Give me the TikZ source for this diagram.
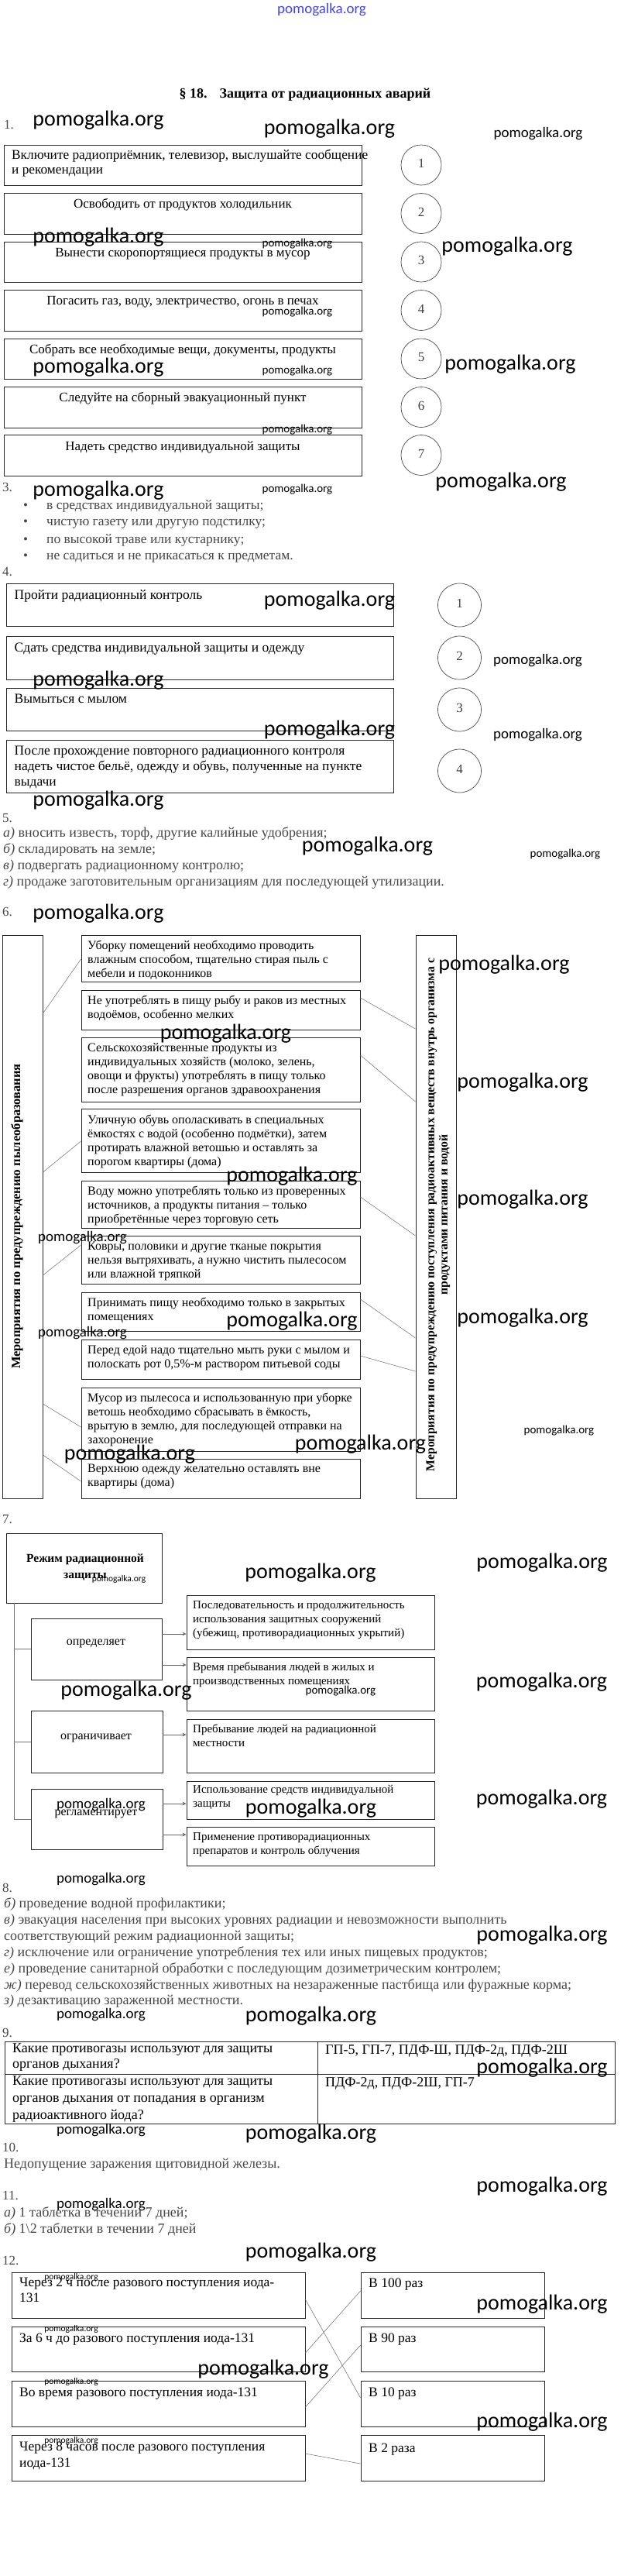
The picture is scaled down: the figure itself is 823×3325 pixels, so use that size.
\documentclass[tikz,border=0pt]{standalone}
\usepackage{fontspec}
\setmainfont{Liberation Serif}
\newfontfamily\wmfont{Carlito}
\usetikzlibrary{fit,arrows.meta}
\definecolor{wmblue}{RGB}{70,70,225}
\newcommand\fsz[2]{\fontsize{#1}{#2}\selectfont}
\newcommand\fst{\rule{0pt}{.75em}}
\tikzset{
  bx/.style={draw=black!85, line width=0.9pt, inner sep=0pt},
  cn/.style={draw=black!55, line width=0.55pt},
  ar/.style={draw=black!60, line width=0.7pt, -{Stealth[length=5pt,width=4.5pt]}},
  circ/.style={circle, draw=black!70, line width=0.7pt, minimum size=#1, inner sep=0pt, font=\fsz{17}{19}, text=black!75},
  wb/.style={font=\wmfont\fsz{28}{30}, inner sep=0pt},
  wm/.style={font=\wmfont\fsz{19}{20}, inner sep=0pt},
  ws/.style={font=\wmfont\fsz{15}{16}, inner sep=0pt},
  wt/.style={font=\wmfont\fsz{11.5}{12}, inner sep=0pt},
  ml/.style 2 args={inner sep=0pt, align=left, anchor=north west, font=\fsz{#1}{#2}, yshift={0.51*#1pt}, execute at begin node=\fst},
  sl/.style={inner sep=0pt, anchor=base west, font=\fsz{#1}{#1}, yshift={-0.24*#1pt}},
  sc/.style={inner sep=0pt, anchor=base, font=\fsz{#1}{#1}, yshift={-0.24*#1pt}},
  gr/.style={text=black!72},
}
\begin{document}
\begin{tikzpicture}[x=1pt,y=-1pt]
\fill[white] (0,0) rectangle (823,3325);
\useasboundingbox (0,0) rectangle (823,3325);

% header and title
\node[font=\wmfont\fsz{19}{20}, text=wmblue, inner sep=0pt] (hdr) at (415.5,12.5) {pomogalka.org};
\node[inner sep=0pt, anchor=base, font=\bfseries\fsz{18}{20}, yshift=-4.3pt] (ttl) at (394,122) {§ 18.\hspace{16pt}Защита от радиационных аварий};

% ---------- 1 ----------
\node[sl=17, gr] (n1) at (5,162) {1.};
\node[bx, fit={(5,187)(467,239)}] (b1) {};
\node[bx, fit={(5,249)(467,302)}] (b2) {};
\node[bx, fit={(5,312)(467,364)}] (b3) {};
\node[bx, fit={(5,374)(467,427)}] (b4) {};
\node[bx, fit={(5,437)(467,489)}] (b5) {};
\node[bx, fit={(5,499)(467,552)}] (b6) {};
\node[bx, fit={(5,561)(467,614)}] (b7) {};
\node[ml={17.3}{18.5}] (b1t) at (15,202) {Включите радиоприёмник, телевизор, выслушайте сообщение\\и рекомендации};
\node[sc=17] (b2t) at (236,264) {Освободить от продуктов холодильник};
\node[sc=17] (b3t) at (236,327) {Вынести скоропортящиеся продукты в мусор};
\node[sc=17] (b4t) at (236,389) {Погасить газ, воду, электричество, огонь в печах};
\node[sc=17] (b5t) at (236,452) {Собрать все необходимые вещи, документы, продукты};
\node[sc=17] (b6t) at (236,514) {Следуйте на сборный эвакуационный пункт};
\node[sc=17] (b7t) at (236,577) {Надеть средство индивидуальной защиты};
\foreach \i/\y in {1/213,2/275.5,3/338,4/400.5,5/463,6/525.5,7/587.5}
  \node[circ=52] (c\i) at (544,\y) {\raisebox{4pt}{\i}};
\node[wb] (w1) at (127,155) {pomogalka.org};
\node[wb] (w2) at (425.5,166.5) {pomogalka.org};
\node[wm] (w3) at (695,173) {pomogalka.org};
\node[wb] (w4) at (127,306) {pomogalka.org};
\node[ws] (w5) at (384,315) {pomogalka.org};
\node[wb] (w6) at (655,318) {pomogalka.org};
\node[ws] (w7) at (384,402.5) {pomogalka.org};
\node[wb] (w8) at (127,474) {pomogalka.org};
\node[ws] (w9) at (384,478.5) {pomogalka.org};
\node[wb] (w10) at (659,470) {pomogalka.org};
\node[ws] (w11) at (384,555) {pomogalka.org};
\node[wb] (w12) at (647,622) {pomogalka.org};
\node[wb] (w13) at (127,633) {pomogalka.org};
\node[ws] (w14) at (384,631.5) {pomogalka.org};

% ---------- 3 ----------
\node[sl=17, gr] (n3) at (3,630) {3.};
\node[sl=17, gr] (k1) at (30,653) {•};
\node[sl=17, gr] (k2) at (30,674) {•};
\node[sl=17, gr] (k3) at (30,697) {•};
\node[sl=17, gr] (k4) at (30,718) {•};
\node[sl=17.5, gr] (k1t) at (60,653) {в средствах индивидуальной защиты;};
\node[sl=17.5, gr] (k2t) at (60,674) {чистую газету или другую подстилку;};
\node[sl=17.5, gr] (k3t) at (60,697) {по высокой траве или кустарнику;};
\node[sl=17.5, gr] (k4t) at (60,718) {не садиться и не прикасаться к предметам.};

% ---------- 4 ----------
\node[sl=17, gr] (n4) at (3,739) {4.};
\node[bx, fit={(8,753)(508,808)}] (d1) {};
\node[bx, fit={(8,821)(508,877)}] (d2) {};
\node[bx, fit={(8,888)(508,943)}] (d3) {};
\node[bx, fit={(8,955)(508,1023)}] (d4) {};
\node[ml={17.5}{20}] (d1t) at (18.5,769) {Пройти радиационный контроль};
\node[ml={17.5}{20}] (d2t) at (18.5,837) {Сдать средства индивидуальной защиты и одежду};
\node[ml={17.5}{20}] (d3t) at (18.5,903) {Вымыться с мылом};
\node[ml={17.5}{20}] (d4t) at (18.5,972) {После прохождение повторного радиационного контроля\\надеть чистое бельё, одежду и обувь, полученные на пункте\\выдачи};
\foreach \i/\y in {1/781,2/849,3/916,4/995}
  \node[circ=56] (e\i) at (593.5,\y) {\raisebox{5pt}{\i}};
\node[wb] (w15) at (425.5,775) {pomogalka.org};
\node[wm] (w16) at (694.5,853) {pomogalka.org};
\node[wb] (w17) at (127,878) {pomogalka.org};
\node[wb] (w18) at (425.5,942) {pomogalka.org};
\node[wm] (w19) at (694.5,949) {pomogalka.org};
\node[wb] (w20) at (127,1033) {pomogalka.org};

% ---------- 5 ----------
\node[sl=17, gr] (n5) at (3,1057) {5.};
\node[sl=18, gr] (f1) at (4,1076) {\textit{а)} вносить известь, торф, другие калийные удобрения;};
\node[sl=18, gr] (f2) at (4,1097) {\textit{б)} складировать на земле;};
\node[sl=18, gr] (f3) at (4,1118) {\textit{в)} подвергать радиационному контролю;};
\node[sl=18, gr] (f4) at (4,1139) {\textit{г)} продаже заготовительным организациям для последующей утилизации.};
\node[wb] (w21) at (474.5,1092) {pomogalka.org};
\node[ws] (w22) at (730,1103) {pomogalka.org};
\node[sl=17, gr] (n6) at (3,1178) {6.};
\node[wb] (w23) at (127,1179) {pomogalka.org};

% ---------- 6 ----------
\node[bx, fit={(3,1207)(55,1934)}] (lb) {};
\node[bx, fit={(537,1207)(589,1934)}] (rb) {};
\node[rotate=90, inner sep=0pt, font=\bfseries\fsz{16.5}{19}] (lbt) at (22,1570) {Мероприятия по предупреждению пылеобразования};
\node[rotate=90, inner sep=0pt, align=center, font=\bfseries\fsz{15.7}{17}] (rbt) at (566,1568) {Мероприятия по предупреждению поступления радиоактивных веществ внутрь организма с\\продуктами питания и водой};
\node[bx, fit={(105,1207)(465,1267)}] (mA) {};
\node[bx, fit={(105,1278)(465,1329)}] (mB) {};
\node[bx, fit={(105,1339)(465,1422)}] (mC) {};
\node[bx, fit={(105,1431)(465,1513)}] (mD) {};
\node[bx, fit={(105,1524)(465,1585)}] (mE) {};
\node[bx, fit={(105,1595)(465,1657)}] (mF) {};
\node[bx, fit={(105,1668)(465,1718)}] (mG) {};
\node[bx, fit={(105,1729)(465,1780)}] (mH) {};
\node[bx, fit={(105,1791)(465,1873)}] (mI) {};
\node[bx, fit={(105,1883)(465,1934)}] (mJ) {};
\node[ml={16}{18}] (mAt) at (113,1222) {Уборку помещений необходимо проводить\\влажным способом, тщательно стирая пыль с\\мебели и подоконников};
\node[ml={16}{18}] (mBt) at (113,1293) {Не употреблять в пищу рыбу и раков из местных\\водоёмов, особенно мелких};
\node[ml={16}{18}] (mCt) at (113,1354) {Сельскохозяйственные продукты из\\индивидуальных хозяйств (молоко, зелень,\\овощи и фрукты) употреблять в пищу только\\после разрешения органов здравоохранения};
\node[ml={16}{18}] (mDt) at (113,1447) {Уличную обувь ополаскивать в специальных\\ёмкостях с водой (особенно подмётки), затем\\протирать влажной ветошью и оставлять за\\порогом квартиры (дома)};
\node[ml={16}{18}] (mEt) at (113,1539) {Воду можно употреблять только из проверенных\\источников, а продукты питания – только\\приобретённые через торговую сеть};
\node[ml={16}{18}] (mFt) at (113,1611) {Ковры, половики и другие тканые покрытия\\нельзя вытряхивать, а нужно чистить пылесосом\\или влажной тряпкой};
\node[ml={16}{18}] (mGt) at (113,1683) {Принимать пищу необходимо только в закрытых\\помещениях};
\node[ml={16}{18}] (mHt) at (113,1744) {Перед едой надо тщательно мыть руки с мылом и\\полоскать рот 0,5\%-м раствором питьевой соды};
\node[ml={16}{18}] (mIt) at (113,1806) {Мусор из пылесоса и использованную при уборке\\ветошь необходимо сбрасывать в ёмкость,\\врытую в землю, для последующей отправки на\\захоронение};
\node[ml={16}{18}] (mJt) at (113,1898) {Верхнюю одежду желательно оставлять вне\\квартиры (дома)};
\draw[cn] (lb.east |- 0,1308) -- (mA.west |- 0,1238);
\draw[cn] (lb.east |- 0,1513) -- (mD.west |- 0,1473);
\draw[cn] (lb.east |- 0,1646) -- (mF.west |- 0,1607);
\draw[cn] (lb.east |- 0,1812) -- (mI.west |- 0,1842);
\draw[cn] (lb.east |- 0,1878) -- (mJ.west |- 0,1912);
\draw[cn] (mB.east |- 0,1288) -- (rb.west |- 0,1328);
\draw[cn] (mC.east |- 0,1362) -- (rb.west |- 0,1422);
\draw[cn] (mE.east |- 0,1545) -- (rb.west |- 0,1595);
\draw[cn] (mG.east |- 0,1677) -- (rb.west |- 0,1727);
\draw[cn] (mH.east |- 0,1750) -- (rb.west |- 0,1770);
\node[wb] (w24) at (651,1245) {pomogalka.org};
\node[wb] (w25) at (291.5,1334) {pomogalka.org};
\node[wb] (w26) at (675,1397.5) {pomogalka.org};
\node[wb] (w27) at (377,1518) {pomogalka.org};
\node[wb] (w28) at (675,1548) {pomogalka.org};
\node[wm] (w29) at (106.5,1597.5) {pomogalka.org};
\node[wb] (w30) at (377,1705) {pomogalka.org};
\node[wm] (w31) at (106.5,1720.5) {pomogalka.org};
\node[wb] (w32) at (675,1701) {pomogalka.org};
\node[ws] (w33) at (722,1847) {pomogalka.org};
\node[wb] (w34) at (465.5,1864) {pomogalka.org};
\node[wb] (w35) at (167.5,1877.5) {pomogalka.org};

% ---------- 7 ----------
\node[sl=17, gr] (n7) at (3,1962) {7.};
\node[bx, fit={(8,1979)(209,2069)}] (rez) {};
\node[inner sep=0pt, align=center, font=\bfseries\fsz{15.5}{21}] (rezt) at (110,2023) {Режим радиационной\\защиты};
\node[wt] (w36) at (153.5,2038) {pomogalka.org};
\node[bx, fit={(40,2089)(209,2168)}] (det) {};
\node[bx, fit={(40,2208)(210,2288)}] (ogr) {};
\node[bx, fit={(40,2309)(210,2387)}] (reg) {};
\node[sc=16] (dett) at (124,2120) {определяет};
\node[sc=16] (ogrt) at (124,2242) {ограничивает};
\node[sc=16] (regt) at (124,2340) {регламентирует};
\node[bx, fit={(241,2059)(561,2129)}] (r1) {};
\node[bx, fit={(241,2139)(561,2208)}] (r2) {};
\node[bx, fit={(241,2219)(561,2288)}] (r3) {};
\node[bx, fit={(241,2299)(561,2348)}] (r4) {};
\node[bx, fit={(241,2358)(561,2408)}] (r5) {};
\node[ml={15}{18}] (r1t) at (249,2074) {Последовательность и продолжительность\\использования защитных сооружений\\(убежищ, противорадиационных укрытий)};
\node[ml={15}{18}] (r2t) at (249,2153) {Время пребывания людей в жилых и\\производственных помещениях};
\node[ml={15}{18}] (r3t) at (249,2233) {Пребывание людей на радиационной\\местности};
\node[ml={15}{18}] (r4t) at (249,2312) {Использование средств индивидуальной\\защиты};
\node[ml={15}{18}] (r5t) at (249,2373) {Применение противорадиационных\\препаратов и контроль облучения};
\coordinate (sp) at ([xshift=10.5pt]rez.south west);
\draw[cn] (sp) |- (reg.west);
\draw[cn] (sp |- det.west) -- (det.west);
\draw[cn] (sp |- ogr.west) -- (ogr.west);
\draw[ar] (det.east |- 0,2109) -- (r1.west |- 0,2109);
\draw[ar] (det.east |- 0,2149) -- (r2.west |- 0,2149);
\draw[ar] (ogr.east |- 0,2239) -- (r3.west |- 0,2239);
\draw[ar] (reg.east |- 0,2328) -- (r4.west |- 0,2328);
\draw[ar] (reg.east |- 0,2368) -- (r5.west |- 0,2368);
\node[wb] (w37) at (401,2030) {pomogalka.org};
\node[wb] (w38) at (700,2017) {pomogalka.org};
\node[wb] (w39) at (163,2182.5) {pomogalka.org};
\node[ws] (w40) at (440,2182.5) {pomogalka.org};
\node[wb] (w41) at (699.5,2171) {pomogalka.org};
\node[wm] (w42) at (130.5,2330) {pomogalka.org};
\node[wb] (w43) at (401.5,2334) {pomogalka.org};
\node[wb] (w44) at (699.5,2322.5) {pomogalka.org};

% ---------- 8 ----------
\node[wm] (w45) at (130.5,2425.5) {pomogalka.org};
\node[sl=17, gr] (n8) at (3,2438) {8.};
\node[sl=18, gr] (g1) at (5,2458) {\textit{б)} проведение водной профилактики;};
\node[sl=18, gr] (g2) at (5,2479) {\textit{в)} эвакуация населения при высоких уровнях радиации и невозможности выполнить};
\node[sl=18, gr] (g3) at (5,2500) {соответствующий режим радиационной защиты;};
\node[sl=18, gr] (g4) at (5,2521) {\textit{г)} исключение или ограничение употребления тех или иных пищевых продуктов;};
\node[sl=18, gr] (g5) at (5,2542) {\textit{е)} проведение санитарной обработки с последующим дозиметрическим контролем;};
\node[sl=18, gr] (g6) at (5,2563) {\textit{ж)} перевод сельскохозяйственных животных на незараженные пастбища или фуражные корма;};
\node[sl=18, gr] (g7) at (5,2583) {\textit{з)} дезактивацию зараженной местности.};
\node[wb] (w46) at (700,2498) {pomogalka.org};
\node[wm] (w47) at (130.5,2601) {pomogalka.org};
\node[wb] (w48) at (401.5,2602.5) {pomogalka.org};

% ---------- 9 ----------
\node[sl=17, gr] (n9) at (3,2625) {9.};
\node[bx, fit={(6,2635)(410,2677)}] (q11) {};
\node[bx, fit={(410,2635)(794,2677)}] (q12) {};
\node[bx, fit={(6,2677)(410,2741)}] (q21) {};
\node[bx, fit={(410,2677)(794,2741)}] (q22) {};
\node[ml={18}{19.5}] (q11t) at (16,2647) {Какие противогазы используют для защиты\\органов дыхания?};
\node[ml={18}{21}] (q12t) at (420,2647) {ГП-5, ГП-7, ПДФ-Ш, ПДФ-2д, ПДФ-2Ш};
\node[ml={18}{22}] (q21t) at (16,2689) {Какие противогазы используют для защиты\\органов дыхания от попадания в организм\\радиоактивного йода?};
\node[ml={18}{21}] (q22t) at (420,2689) {ПДФ-2д, ПДФ-2Ш, ГП-7};
\node[wb] (w49) at (700,2669) {pomogalka.org};
\node[wm] (w50) at (130.5,2750) {pomogalka.org};
\node[wb] (w51) at (401.5,2754) {pomogalka.org};

% ---------- 10, 11 ----------
\node[sl=17, gr] (n10) at (3,2773) {10.};
\node[sl=18, gr] (h1) at (5,2794) {Недопущение заражения щитовидной железы.};
\node[wb] (w52) at (700,2822.5) {pomogalka.org};
\node[sl=17, gr] (n11) at (3,2835) {11.};
\node[wm] (w53) at (130.5,2845) {pomogalka.org};
\node[sl=18, gr] (i1) at (5,2857) {\textit{а)} 1 таблетка в течении 7 дней;};
\node[sl=18, gr] (i2) at (5,2878) {\textit{б)} 1\textbackslash 2 таблетки в течении 7 дней};
\node[wb] (w54) at (401.5,2907.5) {pomogalka.org};

% ---------- 12 ----------
\node[sl=17, gr] (n12) at (3,2919) {12.};
\node[bx, fit={(15,2933)(394,2992)}] (l1) {};
\node[bx, fit={(15,3003)(394,3061)}] (l2) {};
\node[bx, fit={(15,3073)(394,3132)}] (l3) {};
\node[bx, fit={(15,3143)(394,3202)}] (l4) {};
\node[bx, fit={(466,2933)(703,2992)}] (p1) {};
\node[bx, fit={(466,3003)(703,3061)}] (p2) {};
\node[bx, fit={(466,3073)(703,3132)}] (p3) {};
\node[bx, fit={(466,3143)(703,3202)}] (p4) {};
\node[ml={17.5}{20}] (l1t) at (25,2949) {Через 2 ч после разового поступления иода-\\131};
\node[ml={17.5}{20}] (l2t) at (25,3019) {За 6 ч до разового поступления иода-131};
\node[ml={17.5}{20}] (l3t) at (25,3089) {Во время разового поступления иода-131};
\node[ml={17.5}{21}] (l4t) at (25,3161) {Через 8 часов после разового поступления\\иода-131};
\node[ml={17.5}{20}] (p1t) at (476,2948) {В 100 раз};
\node[ml={17.5}{20}] (p2t) at (476,3019) {В 90 раз};
\node[ml={17.5}{20}] (p3t) at (476,3089) {В 10 раз};
\node[ml={17.5}{20}] (p4t) at (476,3161) {В 2 раза};
\draw[cn] (l1.east |- 0,2968) -- (p3.west |- 0,3095);
\draw[cn] (l2.east |- 0,3037) -- (p1.west |- 0,2957);
\draw[cn] (l3.east |- 0,3107) -- (p2.west |- 0,3027);
\draw[cn] (l4.east |- 0,3167) -- (p4.west |- 0,3180);
\node[wt] (w55) at (92,2939) {pomogalka.org};
\node[wt] (w56) at (92,3006.5) {pomogalka.org};
\node[wt] (w57) at (92,3074.5) {pomogalka.org};
\node[wt] (w58) at (92,3150.5) {pomogalka.org};
\node[wb] (w59) at (700,2974) {pomogalka.org};
\node[wb] (w60) at (340,3058) {pomogalka.org};
\node[wb] (w61) at (700,3126.5) {pomogalka.org};
\end{tikzpicture}
\end{document}
